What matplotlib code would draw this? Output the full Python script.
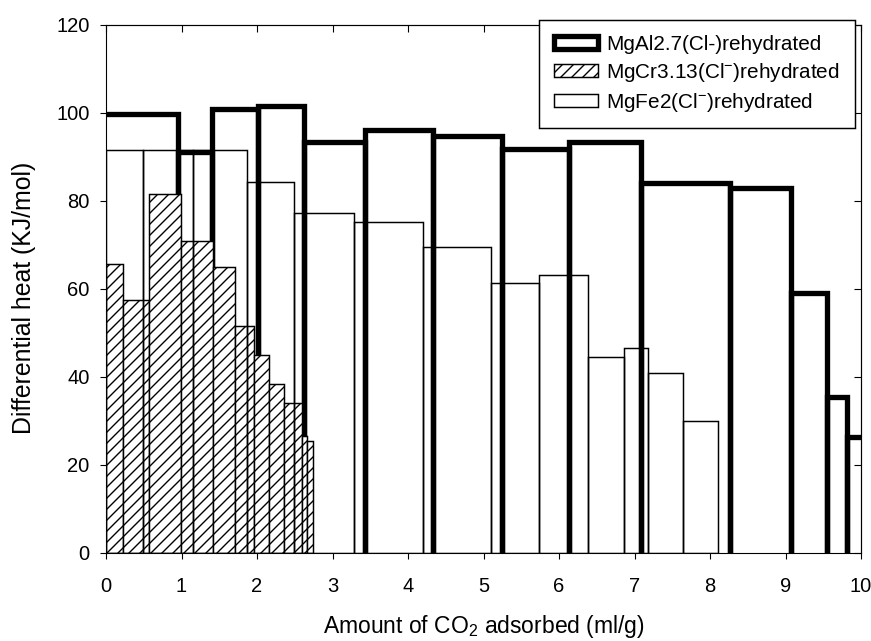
import numpy as np
import matplotlib
matplotlib.use("Agg")
import matplotlib.pyplot as plt
from matplotlib.patches import Patch

# ----------- datos -----------
# bordes de cada barra = cantidad de CO2 adsorbida (ml/g), alturas = calor diferencial (KJ/mol)
al_edges = [0, 0.948, 1.402, 2.012, 2.617, 3.426, 4.337, 5.239, 6.134, 7.082, 8.269, 9.072, 9.556, 9.808, 10.3]
al_heat = [99.8, 91.1, 100.9, 101.7, 93.4, 96.1, 94.8, 91.8, 93.4, 84.0, 83.0, 59.2, 35.4, 26.3]

cr_edges = [0, 0.221, 0.564, 0.995, 1.423, 1.711, 1.954, 2.153, 2.361, 2.595, 2.662, 2.736]
cr_heat = [65.6, 57.4, 81.5, 70.9, 65.0, 51.5, 44.9, 38.3, 34.0, 26.6, 25.4]

fe_edges = [0, 0.487, 1.158, 1.866, 2.484, 3.289, 4.200, 5.093, 5.729, 6.383, 6.857, 7.175, 7.639, 8.103]
fe_heat = [91.6, 91.6, 91.7, 84.3, 77.2, 75.2, 69.5, 61.4, 63.2, 44.6, 46.6, 40.9, 30.1]

labels = ["MgAl2.7(Cl-)rehydrated",
          r"MgCr3.13(Cl$^{-}$)rehydrated",
          r"MgFe2(Cl$^{-}$)rehydrated"]

plt.rcParams['font.family'] = ['Liberation Sans', 'DejaVu Sans']
plt.rcParams['mathtext.fontset'] = 'custom'
plt.rcParams['mathtext.rm'] = 'Liberation Sans'
plt.rcParams['mathtext.it'] = 'Liberation Sans:italic'
plt.rcParams['hatch.linewidth'] = 0.75

DPI = 132
fig = plt.figure(figsize=(871 / DPI, 641 / DPI), dpi=DPI)
ax = fig.add_axes([106 / 871, 1 - 553 / 641, (861 - 106) / 871, (553 - 25) / 641])

# ----------- MgAl: contorno grueso sin borde inferior -----------
for i, h in enumerate(al_heat):
    l, r = al_edges[i], al_edges[i + 1]
    if i == 0:
        # sin linea gruesa sobre el eje izquierdo
        ax.plot([l, r, r], [h, h, 0], color='black', lw=2.9,
                solid_joinstyle='miter', zorder=2)
    else:
        ax.plot([l, l, r, r], [0, h, h, 0], color='black', lw=2.9,
                solid_joinstyle='miter', zorder=2)

# ----------- MgCr: barras rayadas -----------
cr_w = np.diff(cr_edges)
cr_bars = ax.bar(cr_edges[:-1], cr_heat, width=cr_w, align='edge',
                 facecolor='white', edgecolor='black', linewidth=0.8,
                 hatch='////', zorder=3)

# ----------- MgFe: barras blancas (solo contorno) -----------
fe_w = np.diff(fe_edges)
fe_bars = ax.bar(fe_edges[:-1], fe_heat, width=fe_w, align='edge',
                 fill=False, edgecolor='black', linewidth=0.8, zorder=4)

ax.set_xlim(0, 10)
ax.set_ylim(0, 120)
ax.set_xticks(range(0, 11))
ax.set_yticks(range(0, 121, 20))
ax.tick_params(direction='out', length=3.4, width=0.6, labelsize=11)
ax.tick_params(axis='x', pad=9.5)
ax.tick_params(axis='y', pad=5.5)
for s in ax.spines.values():
    s.set_linewidth(0.6)

# ticks hacia dentro arriba y a la derecha
top = ax.secondary_xaxis('top')
top.set_xticks(range(0, 11))
top.tick_params(direction='in', length=3.8, width=0.6, labeltop=False)
top.spines['top'].set_linewidth(0.6)
right = ax.secondary_yaxis('right')
right.set_yticks(range(0, 121, 20))
right.tick_params(direction='in', length=3.8, width=0.6, labelright=False)
right.spines['right'].set_linewidth(0.6)

ax.set_xlabel(r"Amount of CO$_2$ adsorbed (ml/g)", fontsize=12.5)
ax.set_ylabel("Differential heat (KJ/mol)", fontsize=13.6)
ax.xaxis.set_label_coords(0.5, -0.114)
ax.yaxis.set_label_coords(-0.093, 0.484)

al_proxy = Patch(facecolor='white', edgecolor='black', linewidth=2.9)
fe_proxy = Patch(facecolor='white', edgecolor='black', linewidth=0.8)
leg = ax.legend([al_proxy, cr_bars, fe_proxy], labels,
                loc='upper right', bbox_to_anchor=(0.992, 1.0095),
                fontsize=11.3, frameon=True, fancybox=False, framealpha=1,
                edgecolor='black', handlelength=2.15, handleheight=0.62,
                handletextpad=0.4, labelspacing=0.33, borderpad=0.72,
                borderaxespad=0)
leg.get_frame().set_linewidth(0.8)
leg.set_zorder(10)

fig.savefig("out.png", dpi=DPI)
